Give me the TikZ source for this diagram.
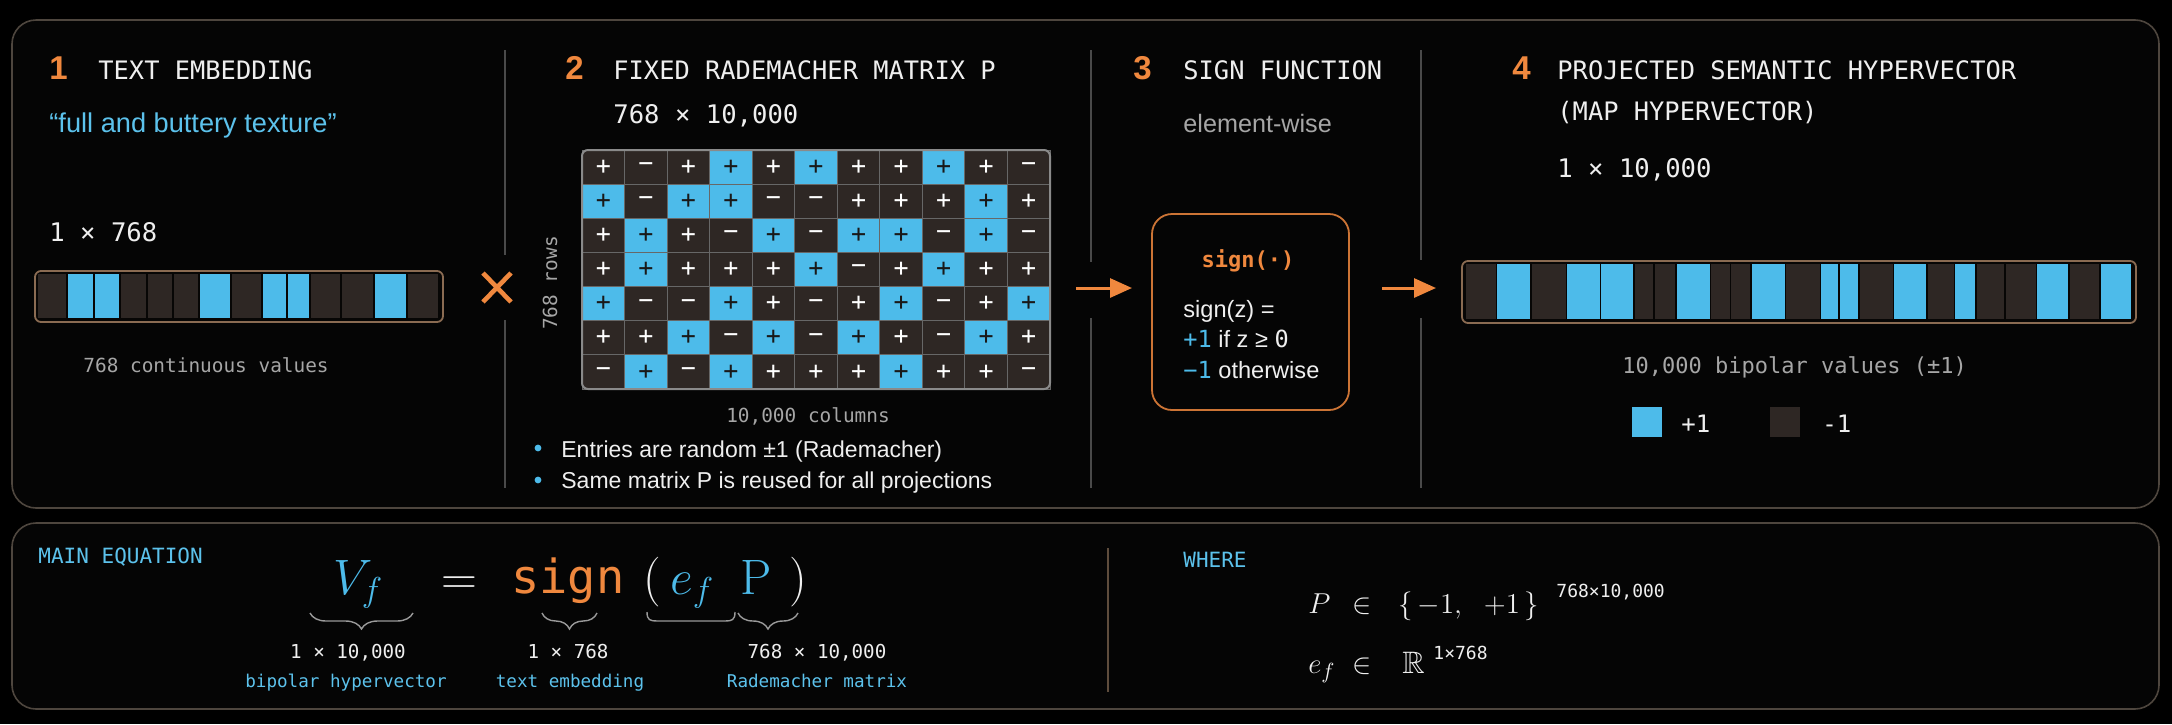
\documentclass[tikz,border=0pt]{standalone}
\usepackage{amsmath,amssymb}
\usepackage[no-math]{fontspec}
\setmainfont{Liberation Sans}
\setmonofont{DejaVu Sans Mono}
\usetikzlibrary{arrows.meta,decorations.pathreplacing}
\newcommand\fsz[1]{\fontsize{#1}{#1}\selectfont}
\definecolor{bgc}{HTML}{000000}
\definecolor{panel}{HTML}{050505}
\definecolor{pborder}{HTML}{4E463E}
\definecolor{cy}{HTML}{4DBBEA}
\definecolor{cyt}{HTML}{5CC2EC}
\definecolor{orng}{HTML}{F0883E}
\definecolor{dcell}{HTML}{2E2724}
\definecolor{wtext}{HTML}{EFEFEF}
\definecolor{gtext}{HTML}{A6A6A6}
\definecolor{divl}{HTML}{4A4A4A}
\definecolor{barb}{HTML}{8A6B52}
\definecolor{gridl}{HTML}{8A8A8A}
\definecolor{braceg}{HTML}{9A9A9A}
\definecolor{div2}{HTML}{5E4C3C}
\tikzset{
  panelbox/.style={draw=pborder, line width=0.8pt, fill=panel, rounded corners=12pt},
  divider/.style={draw=divl, line width=0.7pt},
  num/.style={anchor=base west, inner sep=0, text=orng, font=\bfseries\fsz{16.5}},
  head/.style={anchor=base west, inner sep=0, text=wtext, font=\ttfamily\fsz{12.7}},
  dimtxt/.style={anchor=base west, inner sep=0, text=wtext, font=\ttfamily\fsz{12.8}},
  subtxt/.style={anchor=base west, inner sep=0, text=gtext, font=\ttfamily\fsz{9.7}},
  quotetxt/.style={anchor=base west, inner sep=0, text=cyt, font=\fsz{13.6}},
  bullettxt/.style={anchor=base west, inner sep=0, text=wtext, font=\fsz{11.5}},
  sanstxt/.style={anchor=base west, inner sep=0, text=wtext, font=\fsz{11.8}},
  barframe/.style={draw=barb, line width=0.9pt, fill=black!85!dcell, rounded corners=3pt},
  bc0/.style={fill=dcell}, bc1/.style={fill=cy},
  mcell/.style={draw=gridl!75!black, line width=0.5pt, minimum width=21.27pt, minimum height=17.07pt, inner sep=0, text=white, font=\ttfamily\fsz{12.5}},
  mc1/.style={fill=dcell}, mc2/.style={fill=dcell}, mc3/.style={fill=cy, text=black!90!white},
  flow/.style={draw=orng, line width=1.5pt, -{Triangle[length=11pt,width=9.5pt]}},
  lab/.style={anchor=base west, inner sep=0, text=cyt, font=\ttfamily\fsz{10.5}},
  eqn/.style={anchor=base west, inner sep=0, font=\fsz{27}},
  brc/.style={draw=braceg, line width=0.7pt, decorate, decoration={brace, amplitude=8pt}},
  eqnum/.style={anchor=base, inner sep=0, text=wtext, font=\ttfamily\fsz{9.6}},
  eqlab/.style={anchor=base, inner sep=0, text=cyt, font=\ttfamily\fsz{8.8}},
  wm/.style={anchor=base west, inner sep=0, text=wtext, font=\fsz{15.5}},
  supt/.style={anchor=base west, inner sep=0, text=wtext, font=\ttfamily\fsz{9}},
}
\begin{document}
\begin{tikzpicture}[x=0.5pt,y=-0.5pt]
\fill[bgc] (0,0) rectangle (2172,724);
\useasboundingbox (0,0) rectangle (2172,724);

% panels
\draw[panelbox] (12,20) rectangle (2159,508);
\draw[panelbox] (12,523) rectangle (2159,709);

% dividers
\draw[divider] (505,50) -- (505,255) (505,320) -- (505,488);
\draw[divider] (1091,50) -- (1091,262) (1091,318) -- (1091,488);
\draw[divider] (1421,50) -- (1421,260) (1421,318) -- (1421,488);

% ---------- section 1
\node[num] (n1) at (49,79) {1};
\node[head] (h1) at (98,79) {TEXT EMBEDDING};
\node[quotetxt] (q1) at (49,132) {“full and buttery texture”};
\node[dimtxt] (d1) at (49,241) {1 × 768};
\draw[barframe] (35,271) rectangle (443,322);
\foreach \a/\b/\t in {36.7/66.7/0,66.7/94.3/1,94.3/120/1,120/147.3/0,147.3/173.3/0,173.3/199/0,199/230.7/1,230.7/262.3/0,262.3/286.7/1,286.7/310/1,310/340.7/0,340.7/374/0,374/406.7/1,406.7/439.3/0}
  \fill[bc\t] (\a+0.9,274) rectangle (\b-0.9,318);
\node[subtxt] (c1) at (83,372) {768 continuous values};

% multiply sign
\draw[orng, line width=2.3pt] (483,273) -- (511,302) (483,302) -- (511,273);

% ---------- section 2
\node[num] (n2) at (565,79) {2};
\node[head] (h2) at (613,79) {FIXED RADEMACHER MATRIX P};
\node[dimtxt] (d2) at (613,123) {768 × 10,000};
\foreach \rowlist [count=\r] in {{1,2,1,3,1,3,1,1,3,1,2},{3,2,3,3,2,2,1,1,1,3,1},{1,3,1,2,3,2,3,3,2,3,2},{1,3,1,1,1,3,2,1,3,1,1},{3,2,2,3,1,2,1,3,2,1,3},{1,1,3,2,3,2,3,1,2,3,1},{2,3,2,3,1,1,1,3,1,1,2}}{
  \foreach \v [count=\c] in \rowlist {
    \node[mcell, mc\v] (m-\r-\c) at ({582+(\c-0.5)*42.545},{150+(\r-0.5)*34.143}) {\ifnum\v=2 −\else +\fi};
  }
}
\draw[gridl, line width=1pt, rounded corners=3pt] (582,150) rectangle (1050,389);
\node[subtxt, anchor=center, rotate=90] (rows) at (550,283) {768 rows};
\node[subtxt, anchor=base] (cols) at (808,422) {10,000 columns};
\fill[cy] (538,448) circle[radius=1.7pt];
\fill[cy] (538,480) circle[radius=1.7pt];
\node[bullettxt] (b1) at (561,457) {Entries are random ±1 (Rademacher)};
\node[bullettxt] (b2) at (561,488) {Same matrix P is reused for all projections};

% ---------- section 3
\node[num] (n3) at (1133,79) {3};
\node[head] (h3) at (1183,79) {SIGN FUNCTION};
\node[anchor=base west, inner sep=0, text=gtext, font=\fsz{12.6}] (ew) at (1183,132) {element-wise};
\node[draw=orng!85!black, line width=0.9pt, rounded corners=10pt, minimum width=98.5pt, minimum height=98pt] (sbox) at (1250.5,312) {};
\node[anchor=base, inner sep=0, text=orng, font=\ttfamily\bfseries\fsz{11}] (sg) at (1248,267) {sign(·)};
\node[sanstxt] (s1) at (1183,317) {sign(z) =};
\node[sanstxt] (s2) at (1183,347) {\textcolor{cy}{\ttfamily +1} if z ≥ {\ttfamily 0}};
\node[sanstxt] (s3) at (1183,378) {\textcolor{cy}{\ttfamily −1} otherwise};

\coordinate (a1s) at (1076,288);
\coordinate (a1e) at (1132,288);
\draw[flow] (a1s) -- (a1e);
\coordinate (a2s) at (1382,288);
\coordinate (a2e) at (1436,288);
\draw[flow] (a2s) -- (a2e);

% ---------- section 4
\node[num] (n4) at (1512,79) {4};
\node[head] (h4) at (1557,79) {PROJECTED SEMANTIC HYPERVECTOR};
\node[head] (h4b) at (1557,120) {(MAP HYPERVECTOR)};
\node[dimtxt] (d4) at (1557,177) {1 × 10,000};
\draw[barframe] (1462,261) rectangle (2136,323);
\foreach \a/\b/\t in {1465/1496.5/0,1496.5/1531/1,1531/1566.5/0,1566.5/1600.5/1,1600.5/1634/1,1634/1654/0,1654/1676/0,1676/1710.5/1,1710.5/1730.5/0,1730.5/1751/0,1751/1785.5/1,1785.5/1820.5/0,1820.5/1839/1,1839/1859/1,1859/1893.5/0,1893.5/1927/1,1927/1954.5/0,1954.5/1976/1,1976/2005/0,2005/2036.5/0,2036.5/2069/1,2069/2100/0,2100/2132/1}
  \fill[bc\t] (\a+0.9,264) rectangle (\b-0.9,319);
\node[subtxt, font=\ttfamily\fsz{11}] (bv) at (1622,373) {10,000 bipolar values (±1)};
\fill[cy] (1632,407) rectangle (1662,437);
\node[dimtxt, font=\ttfamily\fsz{12}] (lp) at (1681,432) {+1};
\fill[dcell] (1770,407) rectangle (1800,437);
\node[dimtxt, font=\ttfamily\fsz{12}] (lm) at (1822,432) {-1};

% ---------- bottom panel
\node[lab] (me) at (38,563) {MAIN EQUATION};
\node[eqn, text=cy] (vf) at (333,594) {$V_f$};
\node[eqn, text=wtext] (eq) at (441,594) {$=$};
\node[anchor=base west, inner sep=0, text=orng, font=\ttfamily\fsz{23.5}] (sgn) at (511,593) {sign};
\node[eqn, text=wtext] (lp1) at (643,594) {$($};
\node[eqn, text=cy] (ef) at (670,594) {$e_f$};
\node[eqn, text=cy] (pp) at (740,594) {$\mathrm{P}$};
\node[eqn, text=wtext] (rp1) at (789,594) {$)$};

\draw[brc] (413,613) -- (310,613);
\draw[brc] (597,613) -- (542,613);
\draw[brc] (798,613) -- (738,613);
\draw[braceg, line width=0.7pt] (647,612) .. controls (647,620) and (650,621) .. (657,621) -- (725,621) .. controls (732,621) and (735,620) .. (735,612);

\node[eqnum] (l1a) at (348,658) {1 × 10,000};
\node[eqlab] (l1b) at (346,687) {bipolar hypervector};
\node[eqnum] (l2a) at (568,658) {1 × 768};
\node[eqlab] (l2b) at (570,687) {text embedding};
\node[eqnum] (l3a) at (817,658) {768 × 10,000};
\node[eqlab] (l3b) at (817,687) {Rademacher matrix};

\draw[draw=div2, line width=0.7pt] (1108,548) -- (1108,692);
\node[lab] (wh) at (1183,567) {WHERE};
\node[wm] (wp) at (1308,613) {$P$};
\node[wm] (win1) at (1352,613) {$\in$};
\node[wm] (wset) at (1398,613) {$\{\,-1,\ \ +1\,\}$};
\node[supt] (ws1) at (1556,597) {768×10,000};
\node[wm] (we) at (1308,673) {$e_f$};
\node[wm] (win2) at (1352,673) {$\in$};
\node[wm] (wr) at (1402,673) {$\mathbb{R}$};
\node[supt] (ws2) at (1433,659) {1×768};
\end{tikzpicture}
\end{document}
